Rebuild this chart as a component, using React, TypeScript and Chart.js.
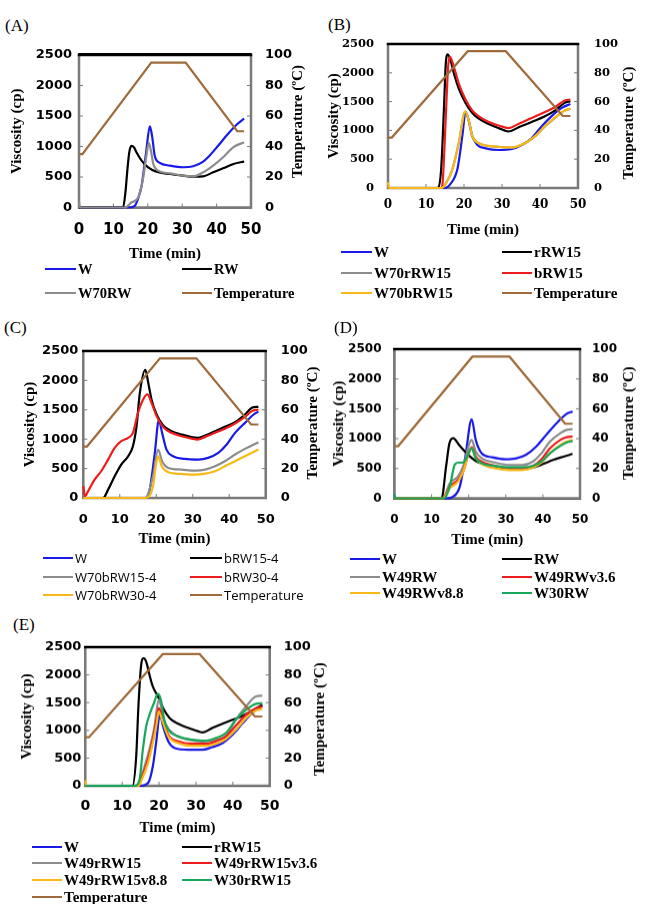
import React, { useEffect, useRef } from 'react';
import { Chart, registerables } from 'chart.js';

Chart.register(...registerables);

// ---------- colours ----------
const BLUE = '#1a1ae6';
const BLACK = '#000000';
const GRAY = '#8c8c8c';
const RED = '#ee1c1c';
const YELLOW = '#f7b818';
const GREEN = '#17a75a';
const BROWN = '#9f6b3b';
const FRAME = '#7a7a7a';

// ---------- tick labels ----------
const timeTicks = [0, 10, 20, 30, 40, 50];
const viscTicks = [0, 500, 1000, 1500, 2000, 2500];
const tempTicks = [0, 20, 40, 60, 80, 100];

// ---------- temperature profile (shared) ----------
const tempTime = [0, 1, 21, 31, 46, 48];
const tempValue = [35, 35, 95, 95, 50, 50];

// ---------- Panel A ----------
const aW_t = [0, 14.5, 16.2, 17.2, 18.2, 19.5, 20.6, 21.3, 22, 23.5, 26.4, 30.3, 33.2, 36.1, 38, 40.5, 42.9, 45.8, 48];
const aW_v = [0, 0, 27, 150, 357, 900, 1330, 1150, 852, 730, 687, 660, 676, 753, 852, 1016, 1181, 1357, 1456];
const aRW_t = [0, 12.8, 13.5, 14, 14.6, 15.2, 16, 16.7, 18.2, 20.1, 22.5, 26.4, 30.3, 33.2, 36.1, 39, 41.9, 44.9, 48];
const aRW_v = [0, 0, 250, 577, 900, 1010, 985, 906, 769, 659, 588, 549, 522, 505, 511, 577, 643, 714, 753];
const aW70RW_t = [0, 0.3, 13.3, 15.2, 17.2, 18.6, 19.6, 20.3, 21, 21.6, 23, 26.4, 30.3, 33.2, 36.1, 39, 41.9, 44.9, 48];
const aW70RW_v = [100, 0, 0, 82, 165, 467, 850, 1060, 900, 714, 604, 560, 522, 511, 577, 687, 824, 989, 1071];

// ---------- Panel B ----------
const bW_t = [0, 14.8, 16.5, 18.3, 19.6, 20.4, 21.3, 22.2, 23.5, 25.7, 29.1, 32.6, 35.2, 37.8, 40.4, 43, 45.7, 48];
const bW_v = [0, 0, 76, 339, 923, 1320, 1157, 894, 748, 689, 660, 678, 748, 864, 1069, 1244, 1390, 1460];
const bRRW_t = [0, 13.2, 14, 14.8, 15.2, 15.7, 16.5, 17.4, 18.7, 20.4, 22.2, 23.9, 26.5, 29.1, 31.7, 34.3, 37.8, 41.3, 43.9, 46.5, 48];
const bRRW_v = [0, 0, 339, 1507, 2150, 2320, 2208, 1974, 1711, 1478, 1302, 1203, 1110, 1040, 981, 1051, 1145, 1244, 1343, 1478, 1507];
const bW70R_t = [0, 14, 15.2, 17, 18.7, 20.3, 21.3, 22.2, 23.9, 28.3, 32.6, 36.1, 38.7, 41.3, 43.9, 46.5, 48];
const bW70R_v = [0, 0, 76, 339, 806, 1320, 1150, 894, 777, 718, 701, 777, 894, 1069, 1215, 1343, 1375];
const bBRW_t = [0, 14, 14.3, 15.2, 15.8, 16.3, 17.4, 18.7, 20.4, 22.2, 23.9, 26.5, 29.1, 31.7, 34.3, 37.8, 41.3, 43.9, 46.5, 48];
const bBRW_v = [0, 0, 47, 1215, 2091, 2278, 2091, 1799, 1536, 1343, 1244, 1145, 1086, 1040, 1110, 1215, 1320, 1402, 1519, 1536];
const bW70B_t = [0, 0.3, 14, 15.2, 17, 18.7, 20.3, 21.3, 22.2, 23.9, 28.3, 32.6, 36.1, 38.7, 41.3, 43.9, 46.5, 48];
const bW70B_v = [100, 0, 0, 70, 330, 800, 1332, 1160, 900, 780, 720, 705, 780, 900, 1075, 1220, 1345, 1380];

// ---------- Panel C ----------
const cW_t = [0, 17, 18.2, 19.6, 20.7, 21.6, 22.8, 24.6, 27.8, 31.5, 34.2, 37, 39.3, 41.6, 44.3, 47.1, 48];
const cW_v = [0, 0, 142, 767, 1324, 1108, 824, 710, 665, 653, 682, 767, 909, 1108, 1278, 1438, 1466];
const cB15_t = [0, 5.4, 6.8, 8.6, 10.4, 12.3, 13.6, 14.6, 15.5, 17, 17.8, 18.7, 20.1, 21.9, 24.2, 26.9, 29.7, 31.3, 33.4, 36.1, 38.8, 41.6, 44.3, 46.2, 48];
const cB15_v = [0, 0, 142, 369, 568, 710, 881, 1222, 1790, 2180, 1960, 1676, 1420, 1233, 1136, 1080, 1034, 1023, 1062, 1136, 1210, 1290, 1420, 1534, 1551];
const cW70B15_t = [0, 17, 19.1, 20.5, 21.6, 23.3, 26.9, 30.6, 33.4, 36.1, 38.8, 41.6, 44.3, 48];
const cW70B15_v = [0, 0, 369, 824, 625, 511, 483, 466, 483, 540, 625, 739, 835, 949];
const cB30_t = [0, 0.5, 1.3, 3.1, 4.9, 6.8, 8.6, 10.4, 12.3, 13.6, 15, 16.4, 17.6, 18.7, 20.1, 21.9, 24.2, 26.9, 29.7, 31.3, 33.4, 36.1, 38.8, 41.6, 44.3, 46.2, 48];
const cB30_v = [200, 30, 114, 312, 455, 653, 852, 966, 1023, 1108, 1449, 1676, 1761, 1619, 1392, 1205, 1108, 1051, 1011, 994, 1040, 1108, 1176, 1267, 1380, 1477, 1506];
const cW70B30_t = [0, 17, 19.1, 20, 20.5, 21.6, 23.3, 26.9, 30.6, 33.4, 36.1, 38.8, 41.6, 44.3, 48];
const cW70B30_v = [0, 0, 199, 597, 710, 528, 437, 409, 398, 415, 455, 540, 625, 710, 824];

// ---------- Panel D ----------
const dW_t = [0, 14, 15.8, 17.6, 19.1, 20.8, 21.9, 23.5, 26.3, 29.9, 32.7, 35.4, 38.2, 40.9, 43.7, 46.4, 48];
const dW_v = [0, 0, 28, 196, 699, 1325, 979, 755, 688, 654, 666, 727, 867, 1063, 1258, 1415, 1454];
const dRW_t = [0, 12.7, 13.9, 14.8, 15.8, 17.6, 19.9, 22.2, 25.4, 29.1, 31.8, 34.6, 37.3, 40.1, 42.8, 45.6, 48];
const dRW_v = [0, 0, 531, 920, 1007, 878, 727, 615, 559, 515, 492, 487, 515, 576, 643, 699, 744];
const dMix_t = [0, 13, 14.9, 17.1, 18.5, 20.8, 21.9, 23.5, 27.2, 30.9, 34.5, 37.3, 39.6, 41.9, 44.7, 46.4, 48];
const dW49_v = [0, 0, 252, 364, 531, 979, 783, 671, 598, 559, 559, 615, 755, 951, 1091, 1147, 1158];
const dW49v36_v = [0, 0, 196, 308, 447, 856, 699, 615, 542, 503, 503, 542, 654, 839, 979, 1024, 1035];
const dW49v88_v = [0, 0, 168, 280, 447, 839, 671, 576, 503, 475, 475, 515, 598, 755, 895, 951, 979];
const dW30_t = [0, 0.3, 13.3, 14.9, 16.2, 17.1, 18.5, 19.4, 20.8, 21.9, 23.5, 27.2, 30.9, 34.5, 37.3, 39.6, 41.9, 44.7, 46.4, 48];
const dW30_v = [60, 0, 0, 196, 559, 598, 598, 671, 839, 671, 587, 542, 520, 520, 542, 615, 755, 878, 934, 962];

// ---------- Panel E ----------
const eW_t = [0, 15.1, 17, 18.3, 19.3, 20.2, 21.1, 22.5, 24.3, 28, 31.7, 34.4, 37.2, 39.9, 42.7, 45.4, 48];
const eW_v = [0, 0, 48, 349, 829, 1290, 1070, 800, 679, 649, 649, 697, 769, 920, 1130, 1322, 1449];
const eRRW_t = [0, 12.8, 13.8, 14.4, 15.1, 15.8, 16.5, 17.4, 18.3, 19.7, 21.1, 22.9, 25.2, 28, 30.7, 31.8, 34.4, 37.2, 39.9, 42.7, 45.4, 48];
const eRRW_v = [0, 0, 529, 1430, 2151, 2301, 2241, 2001, 1790, 1611, 1400, 1220, 1118, 1040, 980, 962, 1040, 1118, 1190, 1262, 1358, 1460];
const eW49_t = [0, 14.5, 15.1, 17, 18.6, 20, 21.1, 21.7, 24.3, 28, 31.7, 35.3, 38.1, 40.8, 43.6, 46.3, 48];
const eW49_v = [0, 0, 138, 559, 1010, 1550, 1250, 1120, 920, 830, 800, 830, 890, 1190, 1430, 1611, 1623];
const eV36_t = [0, 14.5, 15.1, 17, 18.3, 19.3, 19.9, 21.1, 22.5, 25.2, 28.9, 32.6, 35.3, 38.1, 40.8, 43.6, 46.3, 48];
const eV36_v = [0, 0, 108, 469, 829, 1190, 1400, 1190, 920, 800, 757, 757, 800, 890, 1082, 1280, 1400, 1430];
const eV88_t = [0, 0.3, 14.5, 15.1, 17, 18.3, 19.3, 19.9, 21.1, 22.5, 25.2, 28.9, 32.6, 35.3, 38.1, 40.8, 43.6, 46.3, 48];
const eV88_v = [100, 0, 0, 78, 409, 769, 1100, 1340, 1130, 890, 769, 721, 721, 757, 841, 1010, 1220, 1358, 1388];
const eW30_t = [0, 13.3, 14.7, 15.6, 16.5, 17.4, 18.6, 19.7, 20.5, 21.4, 22.5, 25.2, 28.9, 32.6, 35.3, 38.1, 40.8, 43.6, 46.3, 48];
const eW30_v = [0, 0, 108, 649, 1070, 1280, 1490, 1659, 1550, 1190, 1010, 890, 830, 811, 860, 950, 1190, 1370, 1478, 1490];

// ---------- types ----------
type Series = { label: string; color: string; t: number[]; v: number[]; temp?: boolean; legend?: boolean };
type PanelCfg = {
  tag: string; tagX: number; tagY: number;
  cx: number; cw: number; cBottom: number;
  L: number; T: number; R: number; B: number;
  tickFamily: string; yTickSize: number; xTickSize: number;
  yTickPad: number; xTickPad: number; y1TickPad: number;
  yTitlePad: number; xTitle: string; xTitlePad: number;
  rtX: number; rtY: number;
  series: Series[];
  legend: { rows: number[]; c1: [number, number]; c2: [number, number]; font: string };
};

const TOP_PAD = 28;
const FW = 2.5;
const TITLE_FONT = { family: 'Liberation Serif', weight: 'bold' as const, size: 15 };

const framePlugin = {
  id: 'frame',
  beforeDatasetsDraw(chart: any) {
    const { ctx, chartArea, scales } = chart;
    const { left, right, top, bottom } = chartArea;
    ctx.save();
    ctx.strokeStyle = FRAME;
    ctx.lineWidth = 1;
    ctx.beginPath();
    scales.x.ticks.forEach((t: any) => {
      const px = scales.x.getPixelForValue(t.value);
      ctx.moveTo(px, bottom); ctx.lineTo(px, bottom - 4);
    });
    scales.y.ticks.forEach((t: any) => {
      const py = scales.y.getPixelForValue(t.value);
      ctx.moveTo(left, py); ctx.lineTo(left + 4, py);
    });
    scales.y1.ticks.forEach((t: any) => {
      const py = scales.y1.getPixelForValue(t.value);
      ctx.moveTo(right, py); ctx.lineTo(right - 4, py);
    });
    ctx.stroke();
    ctx.lineWidth = FW;
    ctx.strokeStyle = FRAME;
    ctx.beginPath();
    ctx.moveTo(left, top);
    ctx.lineTo(left, bottom);
    ctx.lineTo(right, bottom);
    ctx.lineTo(right, top);
    ctx.stroke();
    ctx.strokeStyle = '#000000';
    ctx.beginPath();
    ctx.moveTo(left - FW / 2, top);
    ctx.lineTo(right + FW / 2, top);
    ctx.stroke();
    ctx.restore();
  },
};

const rightTitlePlugin = {
  id: 'rightTitle',
  afterDraw(chart: any, _a: any, opts: any) {
    if (!opts || !opts.text) return;
    const ctx = chart.ctx;
    ctx.save();
    ctx.translate(opts.x, opts.y);
    ctx.rotate(-Math.PI / 2);
    ctx.font = 'bold 15px "Liberation Serif"';
    ctx.fillStyle = '#000';
    ctx.textAlign = 'center';
    ctx.textBaseline = 'middle';
    ctx.fillText(opts.text, 0, 0);
    ctx.restore();
  },
};

function Panel({ cfg }: { cfg: PanelCfg }) {
  const ref = useRef<HTMLCanvasElement>(null);
  const cy = cfg.T - TOP_PAD;
  const ch = cfg.cBottom - cy;
  useEffect(() => {
    const n = cfg.series.length;
    const datasets = cfg.series.map((s, i) => ({
      label: s.label,
      data: s.t.map((t, k) => ({ x: t, y: s.v[k] })),
      borderColor: s.color,
      backgroundColor: s.color,
      borderWidth: 2.2,
      pointRadius: 0,
      tension: s.temp ? 0 : 0.4,
      cubicInterpolationMode: s.temp ? 'default' : 'monotone',
      yAxisID: s.temp ? 'y1' : 'y',
      clip: 6,
      order: n - i,
    }));
    const tickFont = (size: number) => ({ family: cfg.tickFamily, weight: 'bold' as const, size });
    const leftW = cfg.L - cfg.cx;
    const rightW = cfg.cx + cfg.cw - cfg.R;
    const bottomH = cfg.cBottom - cfg.B;
    const plain = (v: any) => String(v);
    const chart = new Chart(ref.current!, {
      type: 'line',
      data: { datasets: datasets as any },
      plugins: [framePlugin, rightTitlePlugin],
      options: {
        responsive: false,
        animation: false,
        events: [],
        layout: { padding: { top: TOP_PAD, left: 0, right: 0, bottom: 0 } },
        plugins: {
          legend: { display: false },
          tooltip: { enabled: false },
          rightTitle: { text: 'Temperature (ºC)', x: cfg.rtX - cfg.cx, y: cfg.rtY - cy },
        } as any,
        scales: {
          x: {
            type: 'linear', min: timeTicks[0], max: timeTicks[timeTicks.length - 1],
            afterBuildTicks: (s: any) => { s.ticks = timeTicks.map((v) => ({ value: v })); },
            afterFit: (s: any) => { s.height = bottomH; },
            grid: { display: false, drawTicks: false },
            border: { display: false },
            ticks: { font: tickFont(cfg.xTickSize), color: '#000', padding: cfg.xTickPad, maxRotation: 0, callback: plain },
            title: { display: true, text: cfg.xTitle, font: TITLE_FONT, color: '#000', padding: { top: 0, bottom: cfg.xTitlePad } },
          },
          y: {
            type: 'linear', position: 'left', min: viscTicks[0], max: viscTicks[viscTicks.length - 1],
            afterBuildTicks: (s: any) => { s.ticks = viscTicks.map((v) => ({ value: v })); },
            afterFit: (s: any) => { s.width = leftW; },
            grid: { display: false, drawTicks: false },
            border: { display: false },
            ticks: { font: tickFont(cfg.yTickSize), color: '#000', padding: cfg.yTickPad, callback: plain },
            title: { display: true, text: 'Viscosity (cp)', font: TITLE_FONT, color: '#000', padding: { top: cfg.yTitlePad, bottom: 0 } },
          },
          y1: {
            type: 'linear', position: 'right', min: tempTicks[0], max: tempTicks[tempTicks.length - 1],
            afterBuildTicks: (s: any) => { s.ticks = tempTicks.map((v) => ({ value: v })); },
            afterFit: (s: any) => { s.width = rightW; },
            grid: { display: false, drawTicks: false },
            border: { display: false },
            ticks: { font: tickFont(cfg.yTickSize), color: '#000', padding: cfg.y1TickPad, callback: plain },
          },
        },
      } as any,
    });
    return () => chart.destroy();
  }, [cfg]);

  const legendItems = cfg.series.filter((s) => s.legend !== false);
  return (
    <>
      <div style={{ position: 'absolute', left: cfg.tagX, top: cfg.tagY - 11, fontFamily: '"Liberation Serif"', fontSize: 17, lineHeight: '22px', color: '#000' }}>{cfg.tag}</div>
      <div style={{
        position: 'absolute', boxSizing: 'border-box',
        left: cfg.L - FW / 2, top: cfg.T - FW / 2, width: cfg.R - cfg.L + FW, height: cfg.B - cfg.T + FW,
        borderLeft: `${FW}px solid ${FRAME}`, borderRight: `${FW}px solid ${FRAME}`,
        borderBottom: `${FW}px solid ${FRAME}`, borderTop: `${FW}px solid #000`,
      }} />
      <canvas ref={ref} width={cfg.cw} height={ch}
        style={{ position: 'absolute', left: cfg.cx, top: cy, width: cfg.cw, height: ch }} />
      {legendItems.map((s, i) => {
        const row = Math.floor(i / 2);
        const col = i % 2 === 0 ? cfg.legend.c1 : cfg.legend.c2;
        const y = cfg.legend.rows[row];
        return (
          <div key={s.label} style={{ position: 'absolute', left: col[0], top: y - 10, height: 20, display: 'flex', alignItems: 'center', whiteSpace: 'nowrap' }}>
            <span style={{ display: 'inline-block', width: col[1] - col[0], height: 2.5, background: s.color }} />
            <span style={{ marginLeft: 2, font: cfg.legend.font, color: '#000' }}>{s.label}</span>
          </div>
        );
      })}
    </>
  );
}

const tempSeries = (legend = true): Series => ({ label: 'Temperature', color: BROWN, t: tempTime, v: tempValue, temp: true, legend });

const panels: PanelCfg[] = [
  {
    tag: '(A)', tagX: 5, tagY: 26,
    cx: 0, cw: 327, cBottom: 265,
    L: 79, T: 54.5, R: 251, B: 207.5,
    tickFamily: 'DejaVu Sans', yTickSize: 13, xTickSize: 15,
    yTickPad: 7, xTickPad: 13.5, y1TickPad: 14,
    yTitlePad: 8, xTitle: 'Time (min)', xTitlePad: 2,
    rtX: 298, rtY: 121,
    series: [
      { label: 'W', color: BLUE, t: aW_t, v: aW_v },
      { label: 'RW', color: BLACK, t: aRW_t, v: aRW_v },
      { label: 'W70RW', color: GRAY, t: aW70RW_t, v: aW70RW_v },
      tempSeries(),
    ],
    legend: { rows: [269, 293], c1: [45, 76], c2: [182, 212], font: 'bold 14.5px "Liberation Serif"' },
  },
  {
    tag: '(B)', tagX: 328, tagY: 25,
    cx: 318, cw: 336, cBottom: 245,
    L: 388, T: 44, R: 578, B: 188,
    tickFamily: 'DejaVu Serif', yTickSize: 11.5, xTickSize: 12,
    yTickPad: 14, xTickPad: 10, y1TickPad: 16,
    yTitlePad: 7, xTitle: 'Time (min)', xTitlePad: 6,
    rtX: 629, rtY: 123,
    series: [
      { label: 'W', color: BLUE, t: bW_t, v: bW_v },
      { label: 'rRW15', color: BLACK, t: bRRW_t, v: bRRW_v },
      { label: 'W70rRW15', color: GRAY, t: bW70R_t, v: bW70R_v },
      { label: 'bRW15', color: RED, t: bBRW_t, v: bBRW_v },
      { label: 'W70bRW15', color: YELLOW, t: bW70B_t, v: bW70B_v },
      tempSeries(),
    ],
    legend: { rows: [252, 273, 293], c1: [341, 372], c2: [502, 532], font: 'bold 15px "Liberation Serif"' },
  },
  {
    tag: '(C)', tagX: 4, tagY: 328,
    cx: 0, cw: 327, cBottom: 550,
    L: 83.3, T: 351, R: 265.7, B: 498,
    tickFamily: 'DejaVu Sans', yTickSize: 13, xTickSize: 13,
    yTickPad: 5, xTickPad: 14, y1TickPad: 15,
    yTitlePad: 21, xTitle: 'Time (min)', xTitlePad: 2,
    rtX: 313, rtY: 423,
    series: [
      { label: 'W', color: BLUE, t: cW_t, v: cW_v },
      { label: 'bRW15-4', color: BLACK, t: cB15_t, v: cB15_v },
      { label: 'W70bRW15-4', color: GRAY, t: cW70B15_t, v: cW70B15_v },
      { label: 'bRW30-4', color: RED, t: cB30_t, v: cB30_v },
      { label: 'W70bRW30-4', color: YELLOW, t: cW70B30_t, v: cW70B30_v },
      tempSeries(),
    ],
    legend: { rows: [558, 577, 595], c1: [43, 73], c2: [190, 222], font: '13px "Open Sans"' },
  },
  {
    tag: '(D)', tagX: 334, tagY: 328,
    cx: 318, cw: 336, cBottom: 550,
    L: 394.5, T: 349.3, R: 580, B: 498.5,
    tickFamily: 'DejaVu Sans', yTickSize: 12, xTickSize: 12,
    yTickPad: 13, xTickPad: 14.3, y1TickPad: 12,
    yTitlePad: 11.7, xTitle: 'Time (min)', xTitlePad: 1,
    rtX: 629, rtY: 423,
    series: [
      { label: 'W', color: BLUE, t: dW_t, v: dW_v },
      { label: 'RW', color: BLACK, t: dRW_t, v: dRW_v },
      { label: 'W49RW', color: GRAY, t: dMix_t, v: dW49_v },
      { label: 'W49RWv3.6', color: RED, t: dMix_t, v: dW49v36_v },
      { label: 'W49RWv8.8', color: YELLOW, t: dMix_t, v: dW49v88_v },
      { label: 'W30RW', color: GREEN, t: dW30_t, v: dW30_v },
      tempSeries(false),
    ],
    legend: { rows: [559, 577, 593], c1: [350, 380], c2: [502, 532], font: 'bold 15px "Liberation Serif"' },
  },
  {
    tag: '(E)', tagX: 13, tagY: 625,
    cx: 0, cw: 327, cBottom: 839,
    L: 85.3, T: 647.3, R: 269.7, B: 786,
    tickFamily: 'DejaVu Sans', yTickSize: 13, xTickSize: 14,
    yTickPad: 4, xTickPad: 12.3, y1TickPad: 14,
    yTitlePad: 17.7, xTitle: 'Time (mim)', xTitlePad: 1.7,
    rtX: 320, rtY: 719,
    series: [
      { label: 'W', color: BLUE, t: eW_t, v: eW_v },
      { label: 'rRW15', color: BLACK, t: eRRW_t, v: eRRW_v },
      { label: 'W49rRW15', color: GRAY, t: eW49_t, v: eW49_v },
      { label: 'W49rRW15v3.6', color: RED, t: eV36_t, v: eV36_v },
      { label: 'W49rRW15v8.8', color: YELLOW, t: eV88_t, v: eV88_v },
      { label: 'W30rRW15', color: GREEN, t: eW30_t, v: eW30_v },
      tempSeries(),
    ],
    legend: { rows: [847, 863, 880, 897], c1: [32, 62], c2: [182, 212], font: 'bold 15px "Liberation Serif"' },
  },
];

export default function App() {
  return (
    <div style={{ position: 'absolute', left: 0, top: 0, width: 654, height: 904, background: '#fff', overflow: 'hidden' }}>
      {panels.map((p) => <Panel key={p.tag} cfg={p} />)}
    </div>
  );
}
